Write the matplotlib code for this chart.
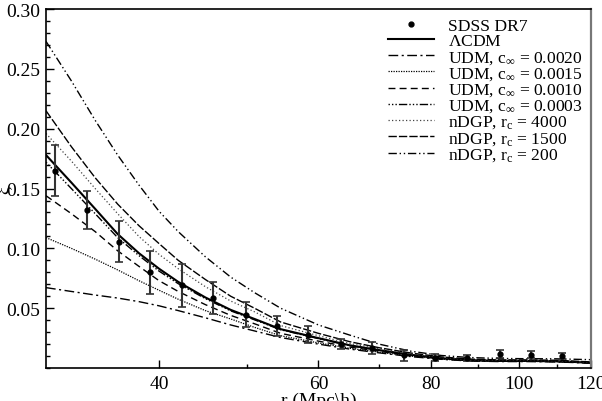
import matplotlib
matplotlib.use("Agg")
import matplotlib.pyplot as plt
from matplotlib.lines import Line2D
from matplotlib.ticker import FixedLocator, NullFormatter, MultipleLocator

plt.rcParams['font.family'] = ['Liberation Serif', 'DejaVu Serif']
plt.rcParams['mathtext.fontset'] = 'custom'
plt.rcParams['mathtext.rm'] = 'Liberation Serif'
plt.rcParams['mathtext.it'] = 'Liberation Serif:italic'

# SDSS DR7 data
r_data = [30.7, 33.3, 36.1, 39.1, 42.4, 45.9, 49.9, 54.0, 58.5, 63.5, 68.8,
          74.6, 80.8, 87.6, 95.2, 103.0, 111.6]
xi_data = [0.165, 0.132, 0.1056, 0.080, 0.069, 0.0585, 0.0444, 0.0353, 0.0278,
           0.0203, 0.0166, 0.0107, 0.0087, 0.0085, 0.0118, 0.0111, 0.0100]
xi_err = [0.021, 0.016, 0.0173, 0.018, 0.018, 0.0135, 0.0104, 0.0083, 0.007,
          0.0043, 0.0049, 0.0047, 0.003, 0.0025, 0.0035, 0.0028, 0.0025]

# model curves
r_model = [30, 32, 34, 36, 38, 40, 42, 45, 48, 51, 54.5, 60, 65, 70, 76, 82,
           88, 95, 102, 110, 120]
xi_lcdm = [0.178, 0.155, 0.133, 0.112, 0.096, 0.083, 0.072, 0.059, 0.0486,
           0.041, 0.0325, 0.025, 0.019, 0.015, 0.011, 0.0082, 0.0066, 0.0060,
           0.0060, 0.0057, 0.0045]
xi_udm_0020 = [0.0672, 0.064, 0.061, 0.0585, 0.0555, 0.052, 0.048, 0.042,
               0.036, 0.031, 0.0255, 0.020, 0.0158, 0.0127, 0.0095, 0.0073,
               0.0059, 0.0054, 0.0054, 0.0051, 0.0041]
xi_udm_0015 = [0.109, 0.100, 0.091, 0.082, 0.073, 0.065, 0.0575, 0.048, 0.041,
               0.034, 0.027, 0.021, 0.0165, 0.0133, 0.0099, 0.0075, 0.0061,
               0.0056, 0.0056, 0.0053, 0.0042]
xi_udm_0010 = [0.144, 0.129, 0.114, 0.098, 0.085, 0.073, 0.064, 0.053, 0.044,
               0.037, 0.029, 0.0225, 0.0175, 0.014, 0.0103, 0.0078, 0.0063,
               0.0057, 0.0057, 0.0054, 0.0043]
xi_udm_0003 = [0.172, 0.150, 0.129, 0.109, 0.094, 0.081, 0.0705, 0.058,
               0.0478, 0.0403, 0.032, 0.0246, 0.0187, 0.0148, 0.0108, 0.0081,
               0.0065, 0.0059, 0.0059, 0.0056, 0.0044]
xi_ndgp_4000 = [0.196, 0.173, 0.150, 0.129, 0.110, 0.095, 0.083, 0.068, 0.056,
                0.047, 0.0355, 0.027, 0.0205, 0.016, 0.0118, 0.0088, 0.0071,
                0.0064, 0.0064, 0.0061, 0.0048]
xi_ndgp_1500 = [0.215, 0.185, 0.159, 0.137, 0.119, 0.104, 0.090, 0.074, 0.060,
                0.050, 0.0385, 0.029, 0.022, 0.017, 0.0125, 0.0093, 0.0075,
                0.0068, 0.0068, 0.0065, 0.0051]
xi_ndgp_200 = [0.273, 0.240, 0.207, 0.178, 0.153, 0.131, 0.114, 0.093, 0.076,
               0.063, 0.050, 0.036, 0.0275, 0.020, 0.014, 0.0105, 0.0088,
               0.0080, 0.0078, 0.0077, 0.0070]

x_ticks = [40, 60, 80, 100, 120]
x_minor = [50, 70, 90, 110]
y_ticks = [0.05, 0.10, 0.15, 0.20, 0.25, 0.30]

fig = plt.figure(figsize=(6.02, 4.02), dpi=100)
ax = fig.add_axes([0.0764, 0.082, 0.905, 0.893])

ax.errorbar(r_data, xi_data, yerr=xi_err, fmt='o', color='black', ms=3.5,
            ecolor='#333333', elinewidth=1.5, capsize=3, capthick=1.2,
            zorder=5)
handles = [Line2D([], [], ls='none', marker='o', color='black', ms=3.5)]
labels = ['SDSS DR7']

def curve(y, label, **kw):
    ln, = ax.plot(r_model, y, color=kw.pop('color', 'black'), **kw)
    handles.append(ln)
    labels.append(label)

curve(xi_lcdm, r'$\Lambda$CDM', lw=1.5)
curve(xi_udm_0020, r'UDM, c$_\infty$ = 0.0020', lw=1.0,
      dashes=(7, 2.5, 1.5, 2.5))
curve(xi_udm_0015, r'UDM, c$_\infty$ = 0.0015', lw=0.9, dashes=(1, 1))
curve(xi_udm_0010, r'UDM, c$_\infty$ = 0.0010', lw=1.0, dashes=(5, 3))
curve(xi_udm_0003, r'UDM, c$_\infty$ = 0.0003', lw=1.0,
      dashes=(1, 1.5, 1, 1.5, 1, 1.5, 6, 1.5))
curve(xi_ndgp_4000, r'nDGP, r$_{\rm c}$ = 4000', lw=0.9, dashes=(1, 1.8),
      color='#444444')
curve(xi_ndgp_1500, r'nDGP, r$_{\rm c}$ = 1500', lw=1.0, dashes=(6, 1.5))
curve(xi_ndgp_200, r'nDGP, r$_{\rm c}$ = 200', lw=1.0,
      dashes=(6, 2, 1, 2, 1, 2))

ax.set_xscale('log')
ax.set_xlim(30, 120)
ax.set_ylim(0, 0.30)
ax.xaxis.set_major_locator(FixedLocator(x_ticks))
ax.xaxis.set_minor_locator(FixedLocator(x_minor))
ax.xaxis.set_minor_formatter(NullFormatter())
ax.set_xticklabels([str(v) for v in x_ticks])
ax.yaxis.set_major_locator(FixedLocator(y_ticks))
ax.yaxis.set_minor_locator(MultipleLocator(0.01))
ax.set_yticklabels(['%.2f' % v for v in y_ticks])
ax.tick_params(which='both', direction='in', top=False, right=False,
               labelsize=14)
ax.tick_params(which='major', length=6, width=1)
ax.tick_params(which='minor', length=3, width=1)
ax.tick_params(axis='x', pad=5)
ax.tick_params(axis='y', pad=4)
for s in ax.spines.values():
    s.set_linewidth(1.2)
ax.spines['right'].set_color('#777777')
ax.spines['right'].set_linewidth(1.6)

ax.set_xlabel('r (Mpc\\h)', fontsize=14, labelpad=0)
ax.set_ylabel('ξ', fontsize=13)
ax.yaxis.set_label_coords(-0.064, 0.50)

leg = ax.legend(handles, labels, loc='upper right',
                bbox_to_anchor=(1.0, 1.0),
                frameon=False, fontsize=12.6, handlelength=2.6,
                labelspacing=-0.03, handletextpad=0.8, borderaxespad=0.08)

fig.savefig('out.png', dpi=100)
